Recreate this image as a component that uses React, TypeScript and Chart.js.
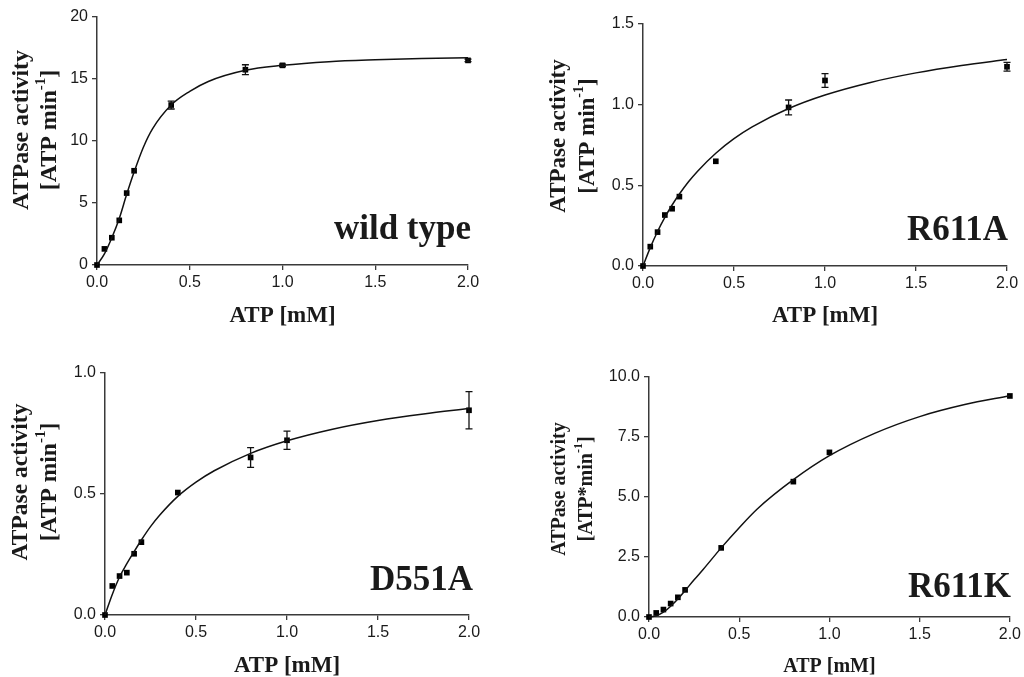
import React, { useEffect, useRef } from "react";
import { Chart, registerables } from "chart.js";

Chart.register(...registerables);

// ---------- data ----------
const ATP_MM = [0, 0.04, 0.08, 0.12, 0.16, 0.2, 0.4, 0.8, 1.0, 2.0];

const WT_ACTIVITY = [0, 1.3, 2.2, 3.6, 5.8, 7.6, 12.9, 15.75, 16.1, 16.5];
const WT_ERROR = [0, 0, 0, 0, 0, 0, 0.32, 0.4, 0.1, 0.1];

const R611A_ACTIVITY = [0, 0.12, 0.21, 0.316, 0.355, 0.43, 0.649, 0.983, 1.15, 1.235];
const R611A_ERROR = [0, 0, 0, 0, 0, 0, 0, 0.046, 0.043, 0.027];

const D551A_ACTIVITY = [0, 0.12, 0.161, 0.175, 0.253, 0.301, 0.506, 0.651, 0.722, 0.846];
const D551A_ERROR = [0, 0, 0, 0, 0, 0, 0, 0.041, 0.038, 0.077];

const R611K_ACTIVITY = [0, 0.17, 0.31, 0.56, 0.82, 1.13, 2.88, 5.64, 6.86, 9.21];
const R611K_ERROR = [0, 0, 0, 0, 0, 0, 0, 0, 0, 0];

// fitted curves
const FIT_ATP = [0, 0.04, 0.08, 0.12, 0.16, 0.2, 0.25, 0.3, 0.4, 0.5, 0.6, 0.8, 1.0, 1.25, 1.5, 1.75, 2.0];
const WT_FIT = [0, 0.9, 2.2, 3.75, 5.7, 7.5, 9.5, 11.0, 12.9, 14.0, 14.8, 15.7, 16.1, 16.4, 16.55, 16.65, 16.72];
const R611A_FIT = [0, 0.114, 0.214, 0.301, 0.378, 0.446, 0.522, 0.588, 0.699, 0.789, 0.862, 0.976, 1.06, 1.138, 1.197, 1.243, 1.28];
const D551A_FIT = [0, 0.085, 0.157, 0.212, 0.262, 0.31, 0.365, 0.412, 0.49, 0.549, 0.596, 0.668, 0.72, 0.768, 0.804, 0.831, 0.853];
const R611K_FIT = [0, 0.05, 0.2, 0.45, 0.75, 1.1, 1.55, 1.98, 2.88, 3.72, 4.5, 5.72, 6.72, 7.65, 8.35, 8.85, 9.22];

const X_TICKS = [0, 0.5, 1.0, 1.5, 2.0];
const WT_Y_TICKS = [0, 5, 10, 15, 20];
const R611A_Y_TICKS = [0, 0.5, 1.0, 1.5];
const D551A_Y_TICKS = [0, 0.5, 1.0];
const R611K_Y_TICKS = [0, 2.5, 5.0, 7.5, 10.0];

const SERIF = '"Liberation Serif", "Times New Roman", serif';
const SANS = '"Liberation Sans", Arial, sans-serif';

type Layout = {
  left: number; top: number; w: number; h: number;
  areaL: number; areaR: number; areaT: number; areaB: number;
  y1X: number; y2X: number; yCY: number; ySize: number;
  xTitleSize: number; xTitleBase: number;
  labelRight: number; labelBase: number;
};

type Panel = {
  label: string;
  unitPrefix: string;
  values: number[];
  errors: number[];
  fit: number[];
  yTicks: number[];
  yDecimals: number;
  layout: Layout;
};

const PANELS: Panel[] = [
  {
    label: "wild type", unitPrefix: "[ATP min", values: WT_ACTIVITY, errors: WT_ERROR, fit: WT_FIT,
    yTicks: WT_Y_TICKS, yDecimals: 0,
    layout: { left: 0, top: 0, w: 512, h: 338, areaL: 97, areaR: 468, areaT: 17, areaB: 265,
      y1X: 22, y2X: 50, yCY: 130, ySize: 24, xTitleSize: 23, xTitleBase: 322, labelRight: 471, labelBase: 239 },
  },
  {
    label: "R611A", unitPrefix: "[ATP min", values: R611A_ACTIVITY, errors: R611A_ERROR, fit: R611A_FIT,
    yTicks: R611A_Y_TICKS, yDecimals: 1,
    layout: { left: 512, top: 0, w: 512, h: 338, areaL: 131, areaR: 495, areaT: 24, areaB: 266,
      y1X: 47, y2X: 76, yCY: 136, ySize: 23, xTitleSize: 23, xTitleBase: 322, labelRight: 496, labelBase: 240 },
  },
  {
    label: "D551A", unitPrefix: "[ATP min", values: D551A_ACTIVITY, errors: D551A_ERROR, fit: D551A_FIT,
    yTicks: D551A_Y_TICKS, yDecimals: 1,
    layout: { left: 0, top: 338, w: 512, h: 339, areaL: 105, areaR: 469, areaT: 35, areaB: 277,
      y1X: 21, y2X: 50, yCY: 144, ySize: 23.5, xTitleSize: 23, xTitleBase: 334, labelRight: 473, labelBase: 252 },
  },
  {
    label: "R611K", unitPrefix: "[ATP*min", values: R611K_ACTIVITY, errors: R611K_ERROR, fit: R611K_FIT,
    yTicks: R611K_Y_TICKS, yDecimals: 1,
    layout: { left: 512, top: 338, w: 512, h: 339, areaL: 137, areaR: 498, areaT: 39, areaB: 279,
      y1X: 48, y2X: 75, yCY: 151, ySize: 20, xTitleSize: 20, xTitleBase: 334, labelRight: 499, labelBase: 259 },
  },
];

const AXIS_COLOR = "#3a3a3a";
const TEXT_COLOR = "#1a1a1a";

function PanelChart({ panel }: { panel: Panel }) {
  const ref = useRef<HTMLCanvasElement | null>(null);

  useEffect(() => {
    if (!ref.current) return;
    const L = panel.layout;

    const overlay = {
      id: "overlay",
      afterDatasetsDraw(chart: any) {
        const ctx = chart.ctx as CanvasRenderingContext2D;
        const xs = chart.scales.x;
        const ys = chart.scales.y;
        ctx.save();
        ctx.strokeStyle = "#111";
        ctx.lineWidth = 1.3;
        panel.values.forEach((v, i) => {
          const e = panel.errors[i];
          if (!e) return;
          const px = xs.getPixelForValue(ATP_MM[i]);
          const top = ys.getPixelForValue(v + e);
          const bot = ys.getPixelForValue(v - e);
          ctx.beginPath();
          ctx.moveTo(px, top);
          ctx.lineTo(px, bot);
          ctx.moveTo(px - 3.5, top);
          ctx.lineTo(px + 3.5, top);
          ctx.moveTo(px - 3.5, bot);
          ctx.lineTo(px + 3.5, bot);
          ctx.stroke();
        });
        ctx.restore();
      },
      afterDraw(chart: any) {
        const ctx = chart.ctx as CanvasRenderingContext2D;
        const area = chart.chartArea;
        ctx.save();
        ctx.fillStyle = TEXT_COLOR;

        // x title
        ctx.font = `bold ${L.xTitleSize}px ${SERIF}`;
        ctx.textAlign = "center";
        ctx.textBaseline = "alphabetic";
        ctx.fillText("ATP [mM]", (area.left + area.right) / 2, L.xTitleBase);

        // panel label
        ctx.font = `bold 35px ${SERIF}`;
        ctx.textAlign = "right";
        ctx.fillText(panel.label, L.labelRight, L.labelBase);

        // y title line 1
        ctx.save();
        ctx.translate(L.y1X, L.yCY);
        ctx.rotate(-Math.PI / 2);
        ctx.font = `bold ${L.ySize}px ${SERIF}`;
        ctx.textAlign = "center";
        ctx.textBaseline = "middle";
        ctx.fillText("ATPase activity", 0, 0);
        ctx.restore();

        // y title line 2 with superscript
        ctx.save();
        ctx.translate(L.y2X, L.yCY);
        ctx.rotate(-Math.PI / 2);
        ctx.textAlign = "left";
        ctx.textBaseline = "middle";
        const mainFont = `bold ${L.ySize}px ${SERIF}`;
        const supFont = `bold ${Math.round(L.ySize * 0.62)}px ${SERIF}`;
        ctx.font = mainFont;
        const wA = ctx.measureText(panel.unitPrefix).width;
        const wC = ctx.measureText("]").width;
        ctx.font = supFont;
        const wB = ctx.measureText("-1").width;
        let x = -(wA + wB + wC) / 2;
        ctx.font = mainFont;
        ctx.fillText(panel.unitPrefix, x, 0);
        x += wA;
        ctx.font = supFont;
        ctx.fillText("-1", x, -L.ySize * 0.38);
        x += wB;
        ctx.font = mainFont;
        ctx.fillText("]", x, 0);
        ctx.restore();

        ctx.restore();
      },
    };

    const yMin = panel.yTicks[0];
    const yMax = panel.yTicks[panel.yTicks.length - 1];

    const chart = new Chart(ref.current, {
      type: "scatter",
      data: {
        datasets: [
          {
            type: "line",
            data: FIT_ATP.map((x, i) => ({ x, y: panel.fit[i] })),
            borderColor: "#111",
            borderWidth: 1.5,
            pointRadius: 0,
            fill: false,
            cubicInterpolationMode: "monotone",
            clip: false,
          } as any,
          {
            type: "scatter",
            data: ATP_MM.map((x, i) => ({ x, y: panel.values[i] })),
            pointStyle: "rect",
            pointRadius: 4,
            backgroundColor: "#000",
            borderColor: "#000",
            borderWidth: 0,
            clip: false,
          } as any,
        ],
      },
      options: {
        animation: false,
        responsive: false,
        maintainAspectRatio: false,
        events: [],
        layout: { padding: { left: 0, top: L.areaT, right: L.w - L.areaR, bottom: 0 } },
        plugins: { legend: { display: false }, tooltip: { enabled: false }, title: { display: false } },
        scales: {
          x: {
            type: "linear",
            min: 0,
            max: 2,
            afterBuildTicks: (s: any) => { s.ticks = X_TICKS.map((value) => ({ value })); },
            afterFit: (s: any) => { s.height = L.h - L.areaB; },
            ticks: {
              callback: (v: any) => Number(v).toFixed(1),
              font: { family: SANS, size: 16 },
              color: TEXT_COLOR,
              padding: 3,
              maxRotation: 0,
              autoSkip: false,
            },
            grid: { drawOnChartArea: false, drawTicks: true, tickLength: 5, color: AXIS_COLOR, lineWidth: 1.3 },
            border: { display: true, color: AXIS_COLOR, width: 1.5 },
          },
          y: {
            type: "linear",
            min: yMin,
            max: yMax,
            afterBuildTicks: (s: any) => { s.ticks = panel.yTicks.map((value) => ({ value })); },
            afterFit: (s: any) => { s.width = L.areaL; },
            ticks: {
              callback: (v: any) => Number(v).toFixed(panel.yDecimals),
              font: { family: SANS, size: 16 },
              color: TEXT_COLOR,
              padding: 4,
              autoSkip: false,
            },
            grid: { drawOnChartArea: false, drawTicks: true, tickLength: 5, color: AXIS_COLOR, lineWidth: 1.3 },
            border: { display: true, color: AXIS_COLOR, width: 1.5 },
          },
        },
      } as any,
      plugins: [overlay],
    });

    return () => chart.destroy();
  }, [panel]);

  const L = panel.layout;
  return (
    <div style={{ position: "absolute", left: L.left, top: L.top, width: L.w, height: L.h }}>
      <canvas ref={ref} width={L.w} height={L.h} style={{ display: "block" }} />
    </div>
  );
}

export default function App() {
  return (
    <div style={{ position: "absolute", left: 0, top: 0, width: 1024, height: 677, background: "#fff", overflow: "hidden" }}>
      {PANELS.map((p) => (
        <PanelChart key={p.label} panel={p} />
      ))}
    </div>
  );
}
